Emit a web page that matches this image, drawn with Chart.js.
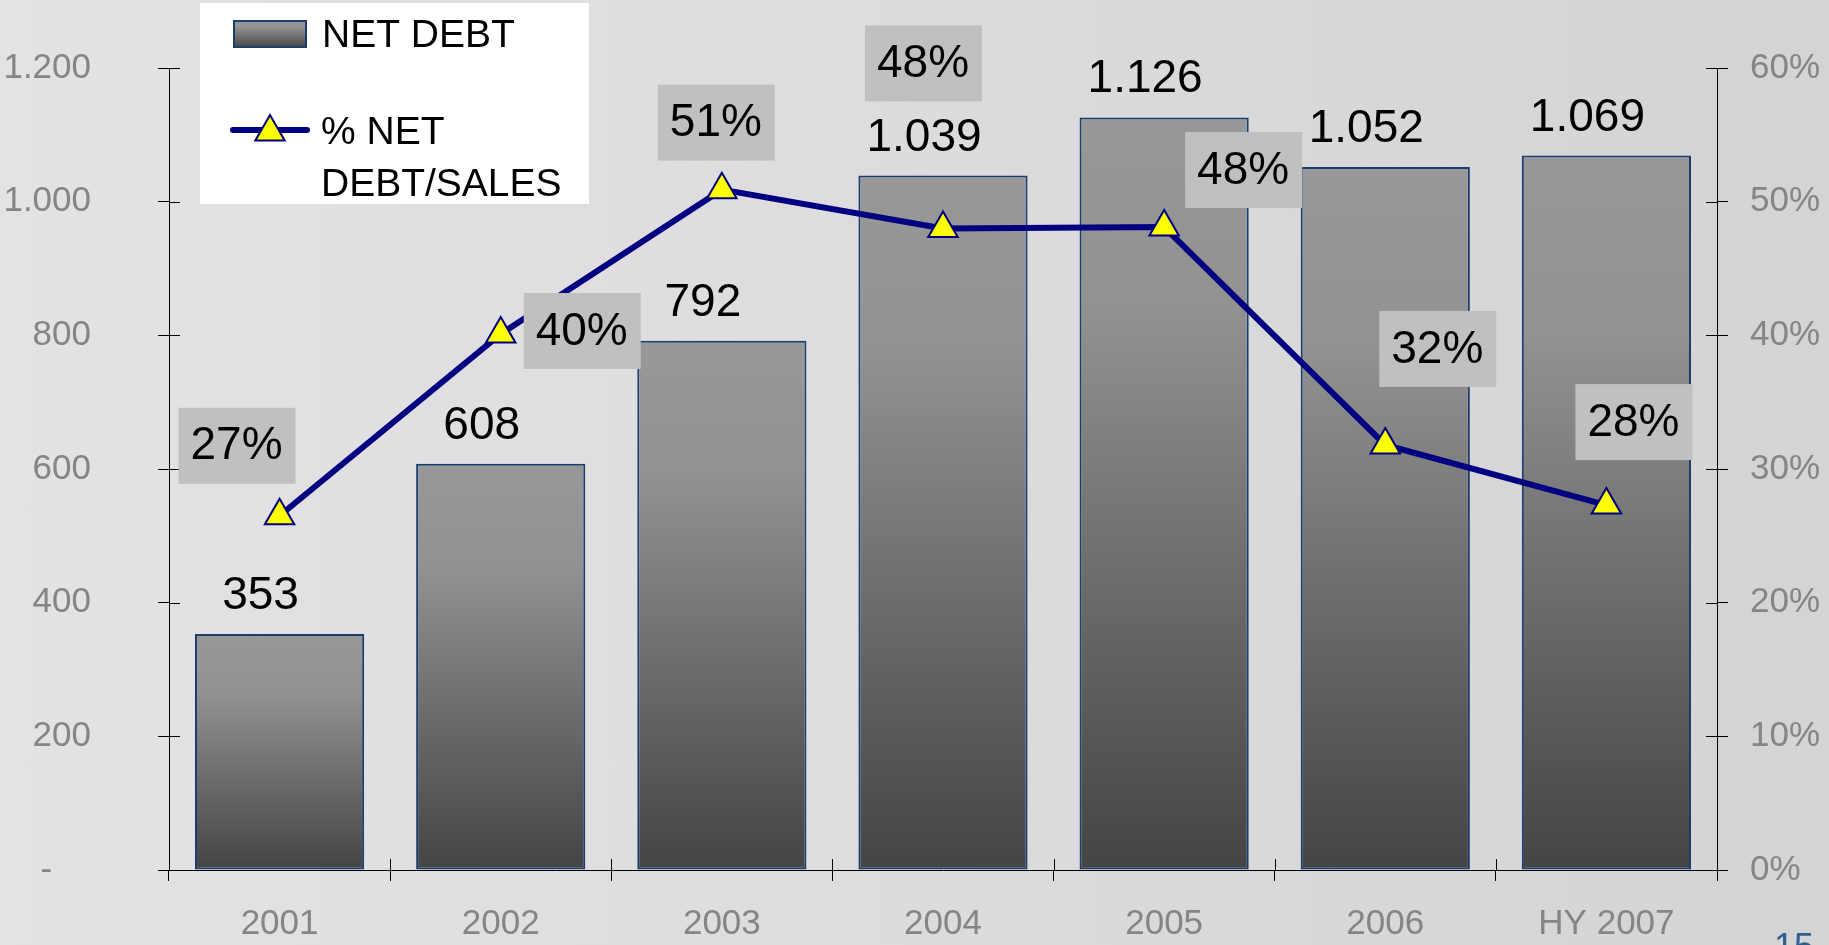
<!DOCTYPE html>
<html>
<head>
<meta charset="utf-8">
<script src="https://cdn.jsdelivr.net/npm/chart.js@4"></script>
<style>
  html, body { margin: 0; padding: 0; }
  body {
    width: 1829px; height: 945px; overflow: hidden; position: relative;
    background: linear-gradient(90deg, #e4e2e4 0%, #dedcde 45%, #d4d4d4 100%);
    font-family: 'Liberation Sans', Arial, sans-serif;
  }
  #wrap { position: absolute; left: 0; top: 0; width: 1829px; height: 945px; }
  #page { position: absolute; left: 1774px; top: 926px; font-size: 36px; color: #2f5f8f; }
</style>
</head>
<body>
<div id="wrap"><canvas id="chart"></canvas></div>
<div id="page">15</div>
<script>
const years = ['2001', '2002', '2003', '2004', '2005', '2006', 'HY 2007'];
const netDebt = [353, 608, 792, 1039, 1126, 1052, 1069];
const debtToSales = [26.5, 40.1, 50.9, 48.0, 48.1, 31.8, 27.3];
const pctLabels = ['27%', '40%', '51%', '48%', '48%', '32%', '28%'];
const seriesNames = ['NET DEBT', '% NET DEBT/SALES'];
const leftTicks = [0, 200, 400, 600, 800, 1000, 1200];
const rightTicks = [0, 10, 20, 30, 40, 50, 60];

// where each % box sits relative to its point (hand placed in the original)
const pctOffsets = [[-43, -70], [81, -3], [-6, -67], [-20, -165], [79, -57], [52, -96], [27, -83]];

const NAVY = '#000080';
const TICK_GREY = '#858585';
const FONT = "'Liberation Sans', Arial, sans-serif";

const fmtThousands = v => String(v).replace(/\B(?=(\d{3})+(?!\d))/g, '.');

function barGradient(ctx, top, bottom) {
  const g = ctx.createLinearGradient(0, top, 0, bottom);
  g.addColorStop(0, '#989898');
  g.addColorStop(0.25, '#929292');
  g.addColorStop(1, '#444444');
  return g;
}

// axis ticks in the original cross the axis line, chart.js only draws the outer half
const innerTicks = {
  id: 'innerTicks',
  beforeDatasetsDraw(chart) {
    const { ctx, chartArea, scales } = chart;
    ctx.save();
    ctx.strokeStyle = '#000';
    ctx.lineWidth = 1;
    ctx.beginPath();
    leftTicks.forEach(v => {
      const y = Math.round(scales.y.getPixelForValue(v)) + 0.5;
      ctx.moveTo(chartArea.left, y); ctx.lineTo(chartArea.left + 11, y);
    });
    rightTicks.forEach(v => {
      const y = Math.round(scales.y2.getPixelForValue(v)) + 0.5;
      ctx.moveTo(chartArea.right - 11, y); ctx.lineTo(chartArea.right, y);
    });
    const step = (chartArea.right - chartArea.left) / years.length;
    for (let i = 0; i <= years.length; i++) {
      const x = Math.round(chartArea.left + i * step) + 0.5;
      ctx.moveTo(x, chartArea.bottom); ctx.lineTo(x, chartArea.bottom - 11);
    }
    ctx.stroke();
    ctx.restore();
  }
};

const valueLabels = {
  id: 'valueLabels',
  afterDatasetsDraw(chart) {
    const { ctx } = chart;
    ctx.save();
    ctx.font = `46px ${FONT}`;
    ctx.fillStyle = '#000';
    ctx.textAlign = 'center';
    ctx.textBaseline = 'alphabetic';
    chart.getDatasetMeta(0).data.forEach((bar, i) => {
      ctx.fillText(fmtThousands(netDebt[i]), bar.x - 19, bar.y - 25);
    });
    chart.getDatasetMeta(1).data.forEach((pt, i) => {
      const cx = pt.x + pctOffsets[i][0];
      const cy = pt.y + pctOffsets[i][1];
      ctx.fillStyle = '#c0c0c0';
      ctx.fillRect(cx - 58, cy - 38, 117, 76);
      ctx.fillStyle = '#000';
      ctx.textBaseline = 'middle';
      ctx.fillText(pctLabels[i], cx, cy + 1);
    });
    ctx.restore();
  }
};

const boxLegend = {
  id: 'boxLegend',
  afterDraw(chart) {
    const { ctx } = chart;
    ctx.save();
    ctx.fillStyle = '#fff';
    ctx.fillRect(200, 3, 389, 201);

    // bar entry
    ctx.fillStyle = barGradient(ctx, 20, 48);
    ctx.fillRect(233, 20, 74, 28);
    ctx.strokeStyle = '#1a3d6e';
    ctx.lineWidth = 2;
    ctx.strokeRect(234, 21, 72, 26);

    ctx.font = `39px ${FONT}`;
    ctx.fillStyle = '#000';
    ctx.textAlign = 'left';
    ctx.textBaseline = 'alphabetic';
    ctx.fillText(chart.data.datasets[0].label, 322, 47);

    // line entry
    ctx.strokeStyle = NAVY;
    ctx.lineWidth = 6;
    ctx.lineCap = 'round';
    ctx.beginPath();
    ctx.moveTo(233, 130); ctx.lineTo(307, 130);
    ctx.stroke();
    ctx.fillStyle = '#ffff00';
    ctx.lineWidth = 2;
    Chart.helpers.drawPoint(ctx, { pointStyle: 'triangle', radius: 17, rotation: 0, borderWidth: 2 }, 270, 132);

    // wrap the long label like the original
    ctx.fillStyle = '#000';
    const words = chart.data.datasets[1].label.split(' ');
    const lines = [];
    let cur = '';
    words.forEach(w => {
      const test = cur ? cur + ' ' + w : w;
      if (ctx.measureText(test).width > 250 && cur) { lines.push(cur); cur = w; }
      else cur = test;
    });
    lines.push(cur);
    lines.forEach((ln, k) => ctx.fillText(ln, 321, 144 + k * 52));
    ctx.restore();
  }
};

// big tick padding on a vertical axis also pads the chart top/bottom, drop that
const noVerticalPad = s => { s.paddingTop = 0; s.paddingBottom = 0; };

new Chart(document.getElementById('chart'), {
  data: {
    labels: years,
    datasets: [{
      type: 'bar',
      label: seriesNames[0],
      data: netDebt,
      yAxisID: 'y',
      order: 1,
      barPercentage: 0.765,
      categoryPercentage: 1,
      borderColor: '#1a3d6e',
      borderWidth: 2,
      borderSkipped: false,
      backgroundColor: (c) => {
        const chart = c.chart;
        if (!chart.chartArea || c.type !== 'data') return '#777';
        const top = chart.scales.y.getPixelForValue(c.raw);
        const bottom = chart.scales.y.getPixelForValue(0);
        return barGradient(chart.ctx, top, bottom);
      }
    }, {
      type: 'line',
      label: seriesNames[1],
      data: debtToSales,
      yAxisID: 'y2',
      order: 0,
      borderColor: NAVY,
      borderWidth: 6,
      tension: 0,
      pointStyle: 'triangle',
      pointRadius: 17,
      pointBackgroundColor: '#ffff00',
      pointBorderColor: NAVY,
      pointBorderWidth: 2
    }]
  },
  options: {
    responsive: true,
    maintainAspectRatio: false,
    animation: false,
    layout: { padding: { top: 68, left: 0, right: 0, bottom: 0 } },
    plugins: { legend: { display: false }, tooltip: { enabled: false } },
    scales: {
      x: {
        type: 'category',
        offset: true,
        grid: { display: true, offset: true, drawOnChartArea: false, drawTicks: true, tickLength: 11, color: '#000' },
        border: { display: true, color: '#000', width: 1 },
        ticks: { color: TICK_GREY, font: { size: 35, family: FONT }, padding: 22, maxRotation: 0, autoSkip: false },
        afterFit: s => { s.height = 75; s.paddingLeft = 0; s.paddingRight = 0; }
      },
      y: {
        position: 'left',
        min: 0, max: 1200,
        afterBuildTicks: s => { s.ticks = leftTicks.map(v => ({ value: v })); },
        grid: { drawOnChartArea: false, drawTicks: true, tickLength: 11, color: '#000' },
        border: { display: true, color: '#000', width: 1 },
        ticks: {
          color: TICK_GREY, font: { size: 35, family: FONT }, padding: 67,
          callback: v => v === 0 ? '-    ' : fmtThousands(v)
        },
        afterFit: s => { s.width = 169; noVerticalPad(s); }
      },
      y2: {
        position: 'right',
        min: 0, max: 60,
        afterBuildTicks: s => { s.ticks = rightTicks.map(v => ({ value: v })); },
        grid: { drawOnChartArea: false, drawTicks: true, tickLength: 11, color: '#000' },
        border: { display: true, color: '#000', width: 1 },
        ticks: {
          color: TICK_GREY, font: { size: 35, family: FONT }, padding: 22,
          callback: v => v + '%'
        },
        afterFit: s => { s.width = 112; noVerticalPad(s); }
      }
    }
  },
  plugins: [innerTicks, valueLabels, boxLegend]
});
</script>
</body>
</html>
